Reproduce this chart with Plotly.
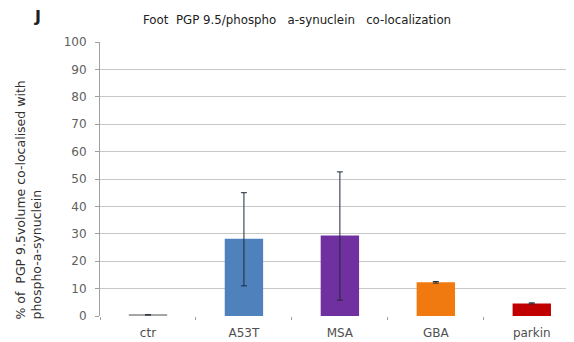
import plotly.graph_objects as go

categories = ["ctr", "A53T", "MSA", "GBA", "parkin"]
values = [0.4, 28.2, 29.4, 12.3, 4.6]
err_plus = [0.0, 16.8, 23.2, 0.3, 0.2]
err_minus = [0.0, 17.2, 23.6, 0.3, 0.2]
colors = ["#A6A6A6", "#4F81BD", "#7030A0", "#F07A10", "#C00000"]
y_ticks = [0, 10, 20, 30, 40, 50, 60, 70, 80, 90, 100]

# page body has an 8px margin, so the figure is sized to fill the rest
W, H = 566, 334
OFF = 8
ML, MR, MT, MB = 92, 0, 34, 26

fig = go.Figure()
fig.add_trace(go.Bar(
    x=categories, y=values, width=0.4,
    marker=dict(color=colors, line=dict(width=0)),
    error_y=dict(type="data", array=err_plus, arrayminus=err_minus,
                 color="#1F2A3A", thickness=1, width=3, symmetric=False),
))

pw = W - ML - MR
ph = H - MT - MB
def px(x):
    return (x - OFF - ML) / pw
def py(y):
    return (H - MB - (y - OFF)) / ph

font_main = "DejaVu Sans"
fig.update_layout(
    width=W, height=H,
    margin=dict(l=ML, r=MR, t=MT, b=MB),
    plot_bgcolor="white", paper_bgcolor="white",
    showlegend=False,
    font=dict(family=font_main, size=10, color="#404040"),
    xaxis=dict(
        range=[-0.5, 4.44], showgrid=False, showline=False,
        ticks="outside", tickson="boundaries", ticklen=3, tickcolor="#A0A0A0",
        ticklabelstandoff=8, automargin=False,
        tickfont=dict(size=12, color="#505050"),
    ),
    yaxis=dict(
        range=[0, 100], tickvals=y_ticks, showgrid=True, gridcolor="#C8C8C8",
        gridwidth=1, showline=True, linecolor="#A0A0A0", linewidth=1,
        ticks="outside", ticklen=4, tickcolor="#A0A0A0",
        ticklabelstandoff=6, automargin=False, zeroline=False,
        tickfont=dict(size=12, color="#606060"),
    ),
    annotations=[
        dict(text="Foot  PGP 9.5/phospho   a-synuclein   co-localization",
             x=px(297), y=py(20), xref="paper", yref="paper",
             xanchor="center", yanchor="middle", showarrow=False,
             font=dict(size=11.8, color="#202020")),
        dict(text="<b>J</b>", x=px(38), y=py(16), xref="paper", yref="paper",
             xanchor="center", yanchor="middle", showarrow=False,
             font=dict(size=16, color="#202020")),
        dict(text="% of  PGP 9.5volume co-localised with<br>phospho-a-synuclein",
             x=px(28), y=py(322), xref="paper", yref="paper",
             xanchor="center", yanchor="bottom",
             textangle=-90, align="left", showarrow=False,
             font=dict(size=12.5, color="#303030")),
    ],
)

fig.write_html("out.html")
